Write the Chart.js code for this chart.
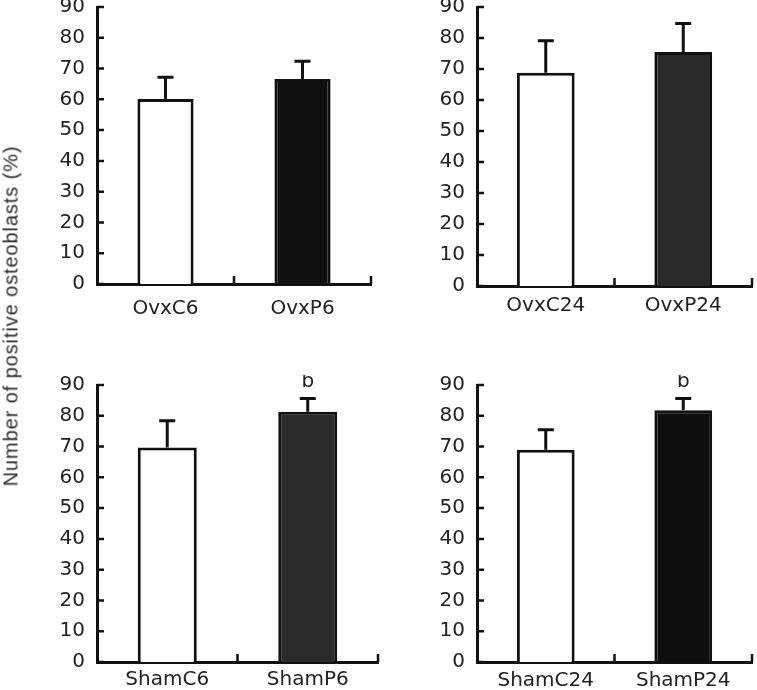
<!DOCTYPE html>
<html>
<head>
<meta charset="utf-8">
<script src="https://cdn.jsdelivr.net/npm/chart.js@4.4.1/dist/chart.umd.min.js"></script>
<style>
  body { margin: 0; background: #fff; }
  #fig { position: relative; width: 757px; height: 690px; overflow: hidden; background: #fff; }
  #fig canvas { position: absolute; }
  #ytitle {
    position: absolute; left: 11px; top: 316px;
    transform: translate(-50%, -50%) rotate(-90deg);
    white-space: nowrap; font-family: "Liberation Sans", Arial, sans-serif;
    font-size: 20px; font-weight: normal; letter-spacing: 0.9px; color: #2a2a2a;
  }
</style>
</head>
<body>
<div id="fig">
  <canvas id="c1"></canvas>
  <canvas id="c2"></canvas>
  <canvas id="c3"></canvas>
  <canvas id="c4"></canvas>
  <div id="ytitle">Number of positive osteoblasts (%)</div>
</div>
<script>
// y axis: 0 to 90 by 10 in every panel
const yMin = 0;
const yMax = 90;
const yStep = 10;

// top left
const ovx6Labels = ["OvxC6", "OvxP6"];
const ovx6Values = [60.1, 66.6];
const ovx6Errors = [7.1, 5.8];
const ovx6Marks = ["", ""];

// top right
const ovx24Labels = ["OvxC24", "OvxP24"];
const ovx24Values = [68.8, 75.5];
const ovx24Errors = [10.3, 9.2];
const ovx24Marks = ["", ""];

// bottom left
const sham6Labels = ["ShamC6", "ShamP6"];
const sham6Values = [69.7, 81.3];
const sham6Errors = [8.7, 4.3];
const sham6Marks = ["", "b"];

// bottom right
const sham24Labels = ["ShamC24", "ShamP24"];
const sham24Values = [69.0, 81.8];
const sham24Errors = [6.5, 3.8];
const sham24Marks = ["", "b"];

const tickFont = { family: "'DejaVu Sans', sans-serif", size: 20 };
const ink = "#111";

// error bars (upper half only) + letters above them
const errorBars = {
  id: "errorBars",
  afterDatasetsDraw(chart, args, opts) {
    const ctx = chart.ctx;
    const y = chart.scales.y;
    const meta = chart.getDatasetMeta(0);
    ctx.save();
    ctx.strokeStyle = ink;
    ctx.lineWidth = 3;
    meta.data.forEach((bar, i) => {
      const v = opts.values[i];
      const top = y.getPixelForValue(v);
      const cap = y.getPixelForValue(v + opts.errors[i]);
      ctx.beginPath();
      ctx.moveTo(bar.x, top);
      ctx.lineTo(bar.x, cap);
      ctx.moveTo(bar.x - 8, cap);
      ctx.lineTo(bar.x + 8, cap);
      ctx.stroke();
      if (opts.marks[i]) {
        ctx.fillStyle = "#222";
        ctx.font = "20px 'DejaVu Sans', sans-serif";
        ctx.textAlign = "center";
        ctx.textBaseline = "bottom";
        ctx.fillText(opts.marks[i], bar.x, cap - 7);
      }
    });
    ctx.restore();
  }
};

// inward tick marks on both axes
const innerTicks = {
  id: "innerTicks",
  afterDraw(chart) {
    const ctx = chart.ctx;
    const { x, y } = chart.scales;
    const area = chart.chartArea;
    ctx.save();
    ctx.strokeStyle = ink;
    ctx.lineWidth = 2.5;
    ctx.beginPath();
    y.ticks.forEach((t) => {
      const py = y.getPixelForValue(t.value);
      ctx.moveTo(area.left, py);
      ctx.lineTo(area.left + 7, py);
    });
    for (let i = 0; i < x.ticks.length; i++) {
      const px = x.getPixelForValue(i + 0.5);
      ctx.moveTo(px, area.bottom);
      ctx.lineTo(px, area.bottom - 8);
    }
    ctx.stroke();
    ctx.restore();
  }
};

const makePanel = (id, area, labels, values, errors, marks, fill, labelGap, barPct) => {
  const canvas = document.getElementById(id);
  const w = area.right - area.left + 97 + 5;
  const h = area.bottom - area.top + 10 + 45;
  canvas.width = w;
  canvas.height = h;
  canvas.style.left = (area.left - 97) + "px";
  canvas.style.top = (area.top - 10) + "px";
  canvas.style.width = w + "px";
  canvas.style.height = h + "px";

  new Chart(canvas, {
    type: "bar",
    data: {
      labels: labels,
      datasets: [{
        data: values,
        backgroundColor: ["#ffffff", fill],
        borderColor: ink,
        borderWidth: 3,
        borderSkipped: "start",
        barPercentage: barPct,
        categoryPercentage: 1
      }]
    },
    options: {
      responsive: false,
      animation: false,
      devicePixelRatio: 1,
      layout: { padding: { top: 10, right: 5, left: 0, bottom: 0 } },
      plugins: {
        legend: { display: false },
        tooltip: { enabled: false },
        errorBars: { values: values, errors: errors, marks: marks }
      },
      scales: {
        x: {
          offset: true,
          grid: { display: false, drawTicks: false },
          border: { display: true, color: ink, width: 3 },
          ticks: { color: "#222", font: tickFont, padding: labelGap },
          afterFit(s) { s.height = 45; s.paddingLeft = 0; s.paddingRight = 0; }
        },
        y: {
          min: yMin,
          max: yMax,
          grid: { display: false, drawTicks: false },
          border: { display: true, color: ink, width: 3 },
          ticks: { stepSize: yStep, color: "#222", font: tickFont, padding: 12 },
          afterFit(s) { s.width = 97; s.paddingTop = 0; s.paddingBottom = 0; }
        }
      }
    },
    plugins: [errorBars, innerTicks]
  });
};

makePanel("c1", { left: 97, right: 371, top: 7, bottom: 284 }, ovx6Labels, ovx6Values, ovx6Errors, ovx6Marks, "#101010", 13, 0.41);
makePanel("c2", { left: 477, right: 752, top: 7, bottom: 286 }, ovx24Labels, ovx24Values, ovx24Errors, ovx24Marks, "#2a2a2a", 8, 0.42);
makePanel("c3", { left: 97, right: 378, top: 385, bottom: 662 }, sham6Labels, sham6Values, sham6Errors, sham6Marks, "#2b2b2b", 6, 0.42);
makePanel("c4", { left: 477, right: 752, top: 385, bottom: 662 }, sham24Labels, sham24Values, sham24Errors, sham24Marks, "#0f0f0f", 7, 0.42);
</script>
</body>
</html>
